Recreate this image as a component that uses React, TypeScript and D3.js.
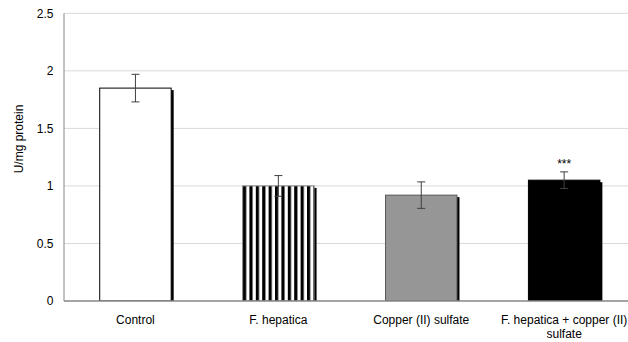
import React from "react";
import * as d3 from "d3";

const categories = ["Control", "F. hepatica", "Copper (II) sulfate", "F. hepatica + copper (II) sulfate"];
const labelLines = [["Control"], ["F. hepatica"], ["Copper (II) sulfate"], ["F. hepatica + copper (II)", "sulfate"]];
const values = [1.85, 1.0, 0.92, 1.05];
const errors = [0.12, 0.09, 0.115, 0.072];
const significance = ["", "", "", "***"];
const yTicks = [0, 0.5, 1, 1.5, 2, 2.5];
const yTitle = "U/mg protein";

const W = 628, H = 342;
const left = 64, right = 635.6, top = 13.3, bottom = 301;

export default function App() {
  const x = d3.scaleBand<string>().domain(categories).range([left, right]).paddingInner(0.5).paddingOuter(0.25);
  const y = d3.scaleLinear().domain([0, 2.5]).range([bottom, top]);
  const bw = x.bandwidth();
  const font = "'Liberation Sans', Arial, sans-serif";
  const fills = ["#ffffff", "url(#stripes)", "#969696", "#000000"];
  const strokes = ["#000000", "#7f7f7f", "#595959", "#000000"];
  return (
    <svg width={W} height={H} style={{ position: "absolute", left: 0, top: 0, background: "#fff" }} fontFamily={font}>
      <defs>
        <pattern id="stripes" patternUnits="userSpaceOnUse" width={6.4} height={10} x={243}>
          <rect x={0} y={0} width={6.4} height={10} fill="#fff" />
          <rect x={0} y={0} width={3.2} height={10} fill="#000" />
        </pattern>
        <clipPath id="plotclip">
          <rect x={left} y={0} width={W - left} height={bottom} />
        </clipPath>
      </defs>
      {yTicks.filter(t => t > 0).map(t => (
        <line key={t} x1={left} x2={W} y1={y(t)} y2={y(t)} stroke="#d9d9d9" strokeWidth={1} />
      ))}
      <g clipPath="url(#plotclip)">
        {categories.map((c, i) => (
          <rect key={"s" + i} x={x(c)! + 2.5} y={y(values[i]) + 2} width={bw} height={bottom - y(values[i])} fill="#000" />
        ))}
        {categories.map((c, i) => (
          <rect key={"b" + i} x={x(c)!} y={y(values[i])} width={bw} height={bottom - y(values[i])} fill={fills[i]} stroke={strokes[i]} strokeWidth={1} />
        ))}
      </g>
      {categories.map((c, i) => {
        const cx = x(c)! + bw / 2;
        const y1 = y(values[i] + errors[i]);
        const y2 = y(values[i] - errors[i]);
        return (
          <g key={"e" + i} stroke="#404040" strokeWidth={1}>
            <line x1={cx} x2={cx} y1={y1} y2={y2} />
            <line x1={cx - 4} x2={cx + 4} y1={y1} y2={y1} />
            <line x1={cx - 4} x2={cx + 4} y1={y2} y2={y2} />
          </g>
        );
      })}
      {categories.map((c, i) => significance[i] ? (
        <text key={"sig" + i} x={x(c)! + bw / 2} y={y(values[i] + errors[i]) - 4} textAnchor="middle" fontSize={12} fill="#000">{significance[i]}</text>
      ) : null)}
      <line x1={left} x2={left} y1={top} y2={bottom} stroke="#868686" strokeWidth={1} />
      <line x1={left} x2={W} y1={bottom} y2={bottom} stroke="#868686" strokeWidth={1.5} />
      {yTicks.map(t => (
        <text key={"t" + t} x={53.5} y={y(t) + 4.2} textAnchor="end" fontSize={12} fill="#000">{d3.format("")(t)}</text>
      ))}
      <text transform={`translate(22.5,139) rotate(-90)`} textAnchor="middle" fontSize={12} fill="#000">{yTitle}</text>
      {categories.map((c, i) => (
        <text key={"l" + i} x={x(c)! + bw / 2} y={324} textAnchor="middle" fontSize={12} fill="#000">
          {labelLines[i].map((ln, j) => (
            <tspan key={j} x={x(c)! + bw / 2} dy={j === 0 ? 0 : 14}>{ln}</tspan>
          ))}
        </text>
      ))}
    </svg>
  );
}
